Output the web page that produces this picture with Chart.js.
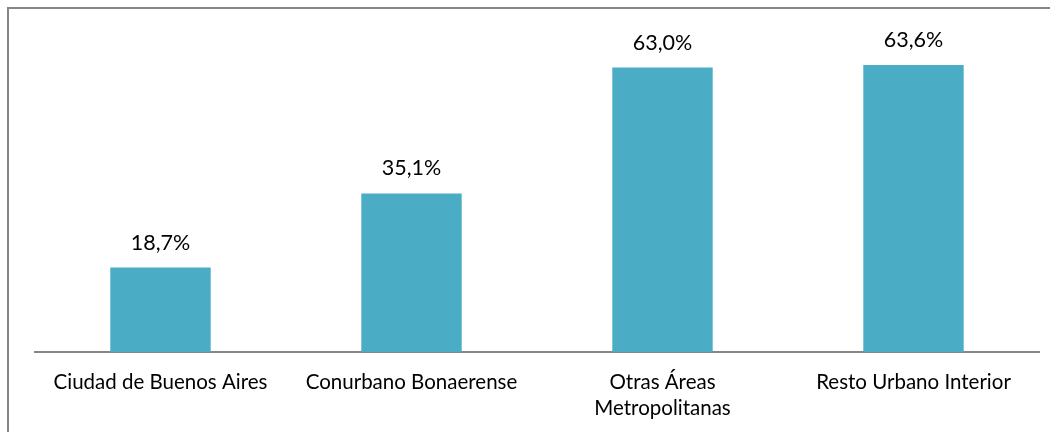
<!DOCTYPE html>
<html>
<head>
<meta charset="utf-8">
<script src="https://cdn.jsdelivr.net/npm/chart.js@4"></script>
<style>
  html, body { margin: 0; padding: 0; background: #ffffff; }
  #wrap { width: 1050px; height: 432px; }
</style>
</head>
<body>
<div id="wrap"><canvas id="graph-bar" width="1050" height="432"></canvas></div>
<script>
var categories = ['Ciudad de Buenos Aires', 'Conurbano Bonaerense', ['Otras Áreas', 'Metropolitanas'], 'Resto Urbano Interior'];
var values = [18.7, 35.1, 63.0, 63.6];
var valueLabels = ['18,7%', '35,1%', '63,0%', '63,6%'];

createGraphBar();

function createGraphBar() {
    var ctx = document.getElementById('graph-bar').getContext('2d');

    // frame around the chart, cut off on the right and bottom
    var framePlugin = {
        id: 'frame',
        beforeDraw: function (chart) {
            var c = chart.ctx;
            c.save();
            c.strokeStyle = '#868686';
            c.lineWidth = 2;
            c.beginPath();
            c.moveTo(8, 440);
            c.lineTo(8, 8);
            c.lineTo(1060, 8);
            c.stroke();
            c.restore();
        }
    };

    // value labels above each bar
    var labelPlugin = {
        id: 'valueLabels',
        afterDatasetsDraw: function (chart) {
            var c = chart.ctx;
            var meta = chart.getDatasetMeta(0);
            c.save();
            c.fillStyle = '#000000';
            c.font = '21.5px Lato';
            c.textAlign = 'center';
            c.textBaseline = 'middle';
            meta.data.forEach(function (bar, i) {
                c.fillText(valueLabels[i], bar.x, bar.y - 25);
            });
            c.restore();
        }
    };

    var data = {
        labels: categories,
        datasets: [{
            data: values,
            backgroundColor: '#4BACC6',
            barPercentage: 0.4,
            categoryPercentage: 1
        }]
    };

    var options = {
        responsive: false,
        animation: false,
        layout: {
            padding: { left: 35, right: 11, top: 36, bottom: 0 }
        },
        plugins: {
            legend: { display: false },
            tooltip: { enabled: false }
        },
        scales: {
            y: {
                display: false,
                min: 0,
                max: 70
            },
            x: {
                grid: { display: false, drawTicks: false },
                border: { color: '#868686', width: 2 },
                ticks: {
                    color: '#000000',
                    padding: 17,
                    maxRotation: 0,
                    autoSkip: false,
                    font: { family: 'Lato', size: 20.5, lineHeight: 1.27 }
                },
                afterFit: function (scale) {
                    scale.height = 80;
                }
            }
        }
    };

    var chart = new Chart(ctx, {
        type: 'bar',
        data: data,
        options: options,
        plugins: [framePlugin, labelPlugin]
    });
}
</script>
</body>
</html>
